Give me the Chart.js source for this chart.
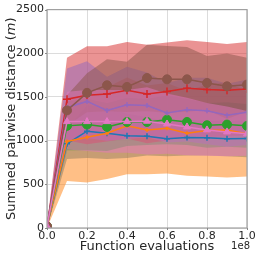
<!DOCTYPE html>
<html>
<head>
<meta charset="utf-8">
<script src="https://cdn.jsdelivr.net/npm/chart.js@4.4.1/dist/chart.umd.min.js"></script>
<style>
  html, body { margin: 0; padding: 0; background: #fff; }
  #c { display: block; }
</style>
</head>
<body>
<canvas id="c" width="258" height="258"></canvas>
<script>
// function evaluations (x)
const evals = [0, 1e7, 2e7, 3e7, 4e7, 5e7, 6e7, 7e7, 8e7, 9e7, 1e8];
const yTicks = [0, 500, 1000, 1500, 2000, 2500];

// mean lines
const blueMean   = [20, 964, 1108, 1085, 1055, 1051, 1021, 1036, 1032, 1021, 1025];
const orangeMean = [20, 991, 1040, 1085, 1169, 1123, 1142, 1085, 1116, 1123, 1078];
const greenMean  = [20, 1169, 1184, 1157, 1214, 1214, 1240, 1214, 1176, 1184, 1169];
const redMean    = [20, 1475, 1520, 1535, 1577, 1535, 1562, 1600, 1585, 1577, 1592];
const purpleMean = [20, 1380, 1449, 1346, 1411, 1403, 1316, 1354, 1343, 1290, 1324];
const brownMean  = [20, 1346, 1547, 1634, 1615, 1717, 1702, 1702, 1660, 1622, 1641];
const pinkMean   = [20, 1218, 1218, 1218, 1218, 1222, 1191, 1157, 1123, 1100, 1078];

// spread bands
const blueLow    = [0, 790, 800, 790, 800, 830, 820, 830, 830, 820, 810];
const blueHigh   = [40, 1140, 1410, 1380, 1310, 1270, 1220, 1240, 1230, 1220, 1240];
const orangeLow  = [0, 537, 522, 560, 616, 616, 624, 598, 590, 579, 590];
const orangeHigh = [40, 1445, 1558, 1610, 1722, 1630, 1660, 1572, 1642, 1667, 1566];
const greenLow   = [0, 890, 890, 880, 940, 950, 960, 950, 920, 930, 920];
const greenHigh  = [40, 1450, 1480, 1430, 1490, 1480, 1520, 1480, 1430, 1440, 1420];
const redLow     = [0, 1002, 960, 990, 1025, 971, 1002, 1052, 1041, 1047, 1055];
const redHigh    = [40, 1948, 2080, 2080, 2129, 2099, 2122, 2148, 2129, 2107, 2129];
const purpleLow  = [0, 980, 1030, 1000, 1020, 1040, 980, 990, 960, 930, 950];
const purpleHigh = [40, 1827, 1910, 1732, 1846, 1780, 1660, 1720, 1720, 1650, 1700];
const brownLow   = [0, 1170, 1324, 1335, 1328, 1335, 1320, 1332, 1350, 1247, 1334];
const brownHigh  = [40, 1520, 1770, 1933, 1902, 2099, 2084, 2072, 1970, 1997, 1948];
const pinkLow    = [0, 900, 880, 860, 860, 840, 850, 834, 826, 820, 826];
const pinkHigh   = [40, 1560, 1580, 1580, 1580, 1610, 1540, 1490, 1430, 1390, 1340];

const series = [
  { color: [31, 119, 180],  mean: blueMean,   low: blueLow,   high: blueHigh,   style: 'cross',    r: 3 },
  { color: [255, 127, 14],  mean: orangeMean, low: orangeLow, high: orangeHigh, style: 'cross',    r: 2 },
  { color: [44, 160, 44],   mean: greenMean,  low: greenLow,  high: greenHigh,  style: 'circle',   r: 4.5 },
  { color: [214, 39, 40],   mean: redMean,    low: redLow,    high: redHigh,    style: 'cross',    r: 4 },
  { color: [148, 103, 189], mean: purpleMean, low: purpleLow, high: purpleHigh, style: 'cross',    r: 2.5 },
  { color: [140, 86, 75],   mean: brownMean,  low: brownLow,  high: brownHigh,  style: 'circle',   r: 4.5 },
  { color: [227, 119, 194], mean: pinkMean,   low: pinkLow,   high: pinkHigh,   style: 'triangle', r: 4 }
];

const pts = arr => arr.map((v, i) => ({ x: evals[i], y: v }));
const rgba = (c, a) => `rgba(${c[0]},${c[1]},${c[2]},${a})`;

const datasets = [];
const n = series.length;
series.forEach((s, i) => {
  // lines on top, later series above earlier ones
  datasets.push({
    data: pts(s.mean),
    borderColor: rgba(s.color, 1),
    backgroundColor: rgba(s.color, 1),
    borderWidth: 1.5,
    pointStyle: s.style,
    pointRadius: s.r,
    pointBorderWidth: s.style === 'cross' ? 1.5 : 1,
    fill: false,
    tension: 0,
    order: n - i
  });
});
series.forEach((s, i) => {
  datasets.push({
    data: pts(s.high),
    borderWidth: 0,
    borderColor: 'rgba(0,0,0,0)',
    pointRadius: 0,
    backgroundColor: rgba(s.color, 0.5),
    fill: '+1',
    tension: 0,
    order: 100 - i * 2
  });
  datasets.push({
    data: pts(s.low),
    borderWidth: 0,
    borderColor: 'rgba(0,0,0,0)',
    pointRadius: 0,
    fill: false,
    tension: 0,
    order: 99 - i * 2
  });
});

const decor = {
  id: 'decor',
  afterDraw(chart) {
    const ctx = chart.ctx;
    const a = chart.chartArea;
    ctx.save();
    ctx.strokeStyle = '#a0a0a0';
    ctx.lineWidth = 1.2;
    ctx.strokeRect(a.left, a.top, a.right - a.left, a.bottom - a.top);
    // small tick marks
    ctx.strokeStyle = '#888';
    ctx.lineWidth = 1;
    const xs = chart.scales.x, ys = chart.scales.y;
    xs.ticks.forEach(t => {
      const px = Math.round(xs.getPixelForValue(t.value)) + 0.5;
      ctx.beginPath(); ctx.moveTo(px, a.bottom); ctx.lineTo(px, a.bottom + 2); ctx.stroke();
    });
    ys.ticks.forEach(t => {
      const py = Math.round(ys.getPixelForValue(t.value)) + 0.5;
      ctx.beginPath(); ctx.moveTo(a.left - 2, py); ctx.lineTo(a.left, py); ctx.stroke();
    });
    ctx.fillStyle = '#262626';
    // x title
    ctx.font = '13px "DejaVu Sans"';
    ctx.textAlign = 'center';
    ctx.textBaseline = 'middle';
    ctx.fillText('Function evaluations', (a.left + a.right) / 2, 247);
    // offset text
    ctx.font = '10px "DejaVu Sans"';
    ctx.textAlign = 'right';
    ctx.fillText('1e8', 250, 246);
    // y title with italic m
    ctx.translate(12, (a.top + a.bottom) / 2);
    ctx.rotate(-Math.PI / 2);
    const parts = [['Summed pairwise distance (', ''], ['m', 'italic '], [')', '']];
    let total = 0;
    parts.forEach(p => { ctx.font = p[1] + '13px "DejaVu Sans"'; total += ctx.measureText(p[0]).width; });
    let x = -total / 2;
    ctx.textAlign = 'left';
    parts.forEach(p => {
      ctx.font = p[1] + '13px "DejaVu Sans"';
      ctx.fillText(p[0], x, 0);
      x += ctx.measureText(p[0]).width;
    });
    ctx.restore();
  }
};

new Chart(document.getElementById('c').getContext('2d'), {
  type: 'line',
  data: { datasets: datasets },
  plugins: [decor],
  options: {
    responsive: false,
    animation: false,
    layout: { padding: { left: 0, right: 11, top: 7, bottom: 0 } },
    plugins: {
      legend: { display: false },
      tooltip: { enabled: false },
      filler: { propagate: false }
    },
    scales: {
      x: {
        type: 'linear',
        min: 0,
        max: 1e8,
        afterFit: s => { s.height = 30; },
        afterBuildTicks: s => { s.ticks = [0, 2e7, 4e7, 6e7, 8e7, 1e8].map(v => ({ value: v })); },
        ticks: {
          padding: 2,
          color: '#262626',
          font: { family: 'DejaVu Sans', size: 11 },
          callback: v => (v / 1e8).toFixed(1),
          maxRotation: 0
        },
        grid: { color: '#dcdcdc', drawTicks: false },
        border: { display: false }
      },
      y: {
        min: 0,
        max: 2500,
        afterFit: s => { s.width = 47; },
        afterBuildTicks: s => { s.ticks = yTicks.map(v => ({ value: v })); },
        ticks: {
          padding: 3,
          color: '#262626',
          font: { family: 'DejaVu Sans', size: 11 },
          callback: v => String(v)
        },
        grid: { color: '#dcdcdc', drawTicks: false },
        border: { display: false }
      }
    }
  }
});
</script>
</body>
</html>
